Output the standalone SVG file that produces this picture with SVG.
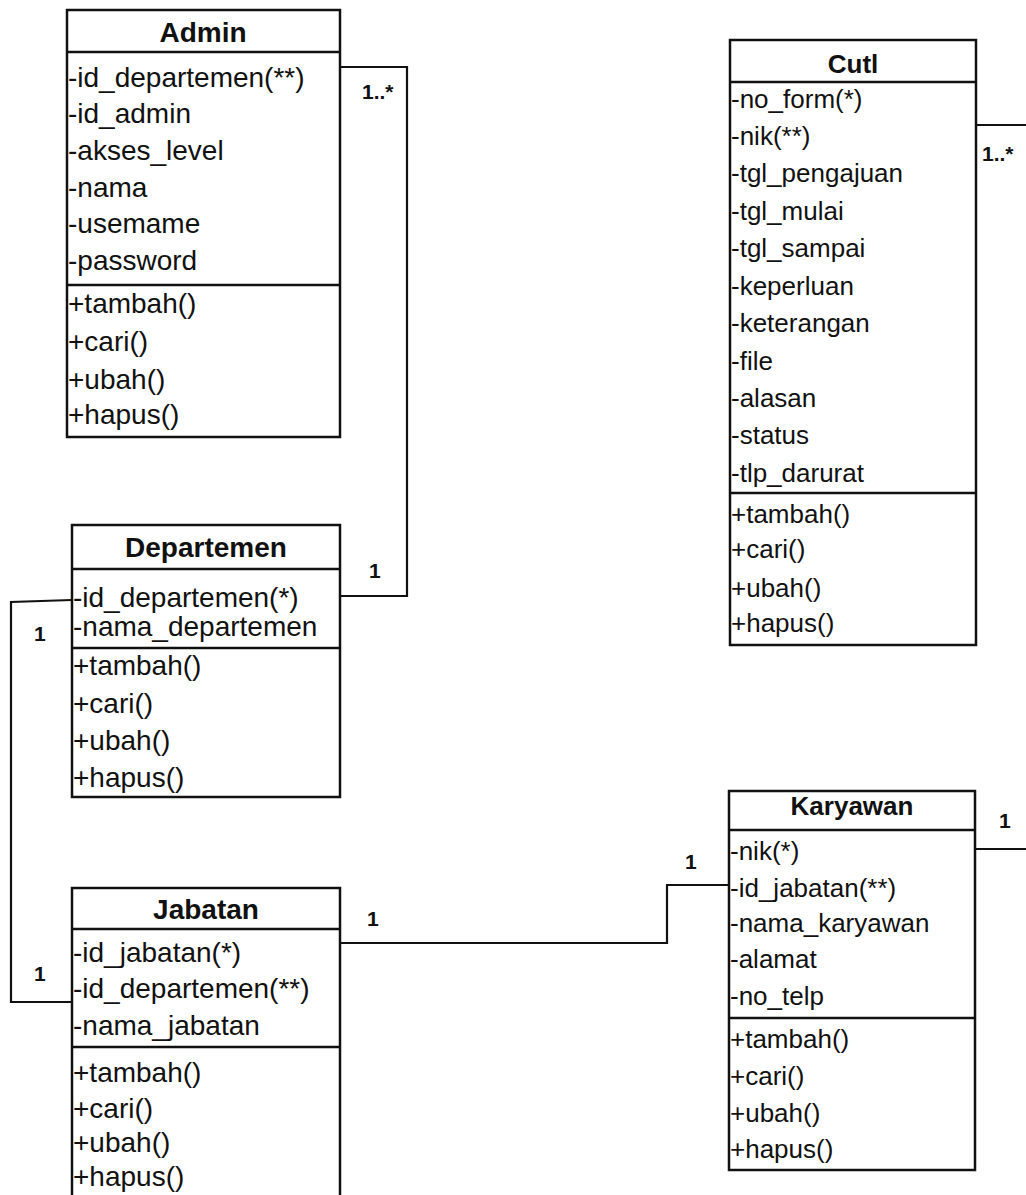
<svg xmlns="http://www.w3.org/2000/svg" width="1026" height="1195" viewBox="0 0 1026 1195">
<style>
.box{fill:#fff;stroke:#111;stroke-width:2.5}
.div{stroke:#111;stroke-width:2.5}
.conn{fill:none;stroke:#111;stroke-width:2.2}
.t{font-family:"Liberation Sans",Arial,sans-serif;font-size:28px;fill:#111}
.tr{font-family:"Liberation Sans",Arial,sans-serif;font-size:26px;fill:#111}
.h{font-family:"Liberation Sans",Arial,sans-serif;font-size:28px;font-weight:bold;fill:#111;text-anchor:middle}
.hr{font-family:"Liberation Sans",Arial,sans-serif;font-size:26px;font-weight:bold;fill:#111;text-anchor:middle}
.m{font-family:"Liberation Sans",Arial,sans-serif;font-size:21px;font-weight:bold;fill:#111}
</style>
<rect x="0" y="0" width="1026" height="1195" fill="#fff"/>
<g id="connectors">
<polyline class="conn" points="340,67 407,67 407,596 340,596"/>
<polyline class="conn" points="72,600 11,602 11,1002 72,1002"/>
<polyline class="conn" points="340,943 667,943 667,885 729,885"/>
<line class="conn" x1="976" y1="125" x2="1026" y2="125"/>
<line class="conn" x1="975" y1="849" x2="1026" y2="849"/>
<text class="m" x="362" y="99">1..*</text>
<text class="m" x="369" y="578">1</text>
<text class="m" x="34" y="641">1</text>
<text class="m" x="34" y="981">1</text>
<text class="m" x="367" y="926">1</text>
<text class="m" x="685" y="869">1</text>
<text class="m" x="982" y="161">1..*</text>
<text class="m" x="999" y="828">1</text>
</g>
<g id="admin">
<rect class="box" x="67" y="10" width="273" height="427"/>
<line class="div" x1="67" y1="52" x2="340" y2="52"/>
<line class="div" x1="67" y1="285" x2="340" y2="285"/>
<text class="h" x="203" y="42">Admin</text>
<text class="t" x="68" y="87">-id_departemen(**)</text>
<text class="t" x="68" y="123">-id_admin</text>
<text class="t" x="68" y="160">-akses_level</text>
<text class="t" x="68" y="197">-nama</text>
<text class="t" x="68" y="233">-usemame</text>
<text class="t" x="68" y="270">-password</text>
<text class="t" x="68" y="313">+tambah()</text>
<text class="t" x="68" y="351">+cari()</text>
<text class="t" x="68" y="389">+ubah()</text>
<text class="t" x="68" y="424">+hapus()</text>
</g>
<g id="departemen">
<rect class="box" x="72" y="525" width="268" height="272"/>
<line class="div" x1="72" y1="569" x2="340" y2="569"/>
<line class="div" x1="72" y1="648" x2="340" y2="648"/>
<text class="h" x="206" y="557">Departemen</text>
<text class="t" x="73" y="607">-id_departemen(*)</text>
<text class="t" x="73" y="636">-nama_departemen</text>
<text class="t" x="73" y="675">+tambah()</text>
<text class="t" x="73" y="713">+cari()</text>
<text class="t" x="73" y="750">+ubah()</text>
<text class="t" x="73" y="787">+hapus()</text>
</g>
<g id="jabatan">
<rect class="box" x="72" y="888" width="268" height="320"/>
<line class="div" x1="72" y1="929" x2="340" y2="929"/>
<line class="div" x1="72" y1="1047" x2="340" y2="1047"/>
<text class="h" x="206" y="919">Jabatan</text>
<text class="t" x="73" y="962">-id_jabatan(*)</text>
<text class="t" x="73" y="998">-id_departemen(**)</text>
<text class="t" x="73" y="1035">-nama_jabatan</text>
<text class="t" x="73" y="1082">+tambah()</text>
<text class="t" x="73" y="1118">+cari()</text>
<text class="t" x="73" y="1152">+ubah()</text>
<text class="t" x="73" y="1186">+hapus()</text>
</g>
<g id="cuti">
<rect class="box" x="730" y="40" width="246" height="605"/>
<line class="div" x1="730" y1="82" x2="976" y2="82"/>
<line class="div" x1="730" y1="493" x2="976" y2="493"/>
<text class="hr" x="853" y="73">Cutl</text>
<text class="tr" x="731" y="108">-no_form(*)</text>
<text class="tr" x="731" y="145">-nik(**)</text>
<text class="tr" x="731" y="182">-tgl_pengajuan</text>
<text class="tr" x="731" y="220">-tgl_mulai</text>
<text class="tr" x="731" y="257">-tgl_sampai</text>
<text class="tr" x="731" y="295">-keperluan</text>
<text class="tr" x="731" y="332">-keterangan</text>
<text class="tr" x="731" y="370">-file</text>
<text class="tr" x="731" y="407">-alasan</text>
<text class="tr" x="731" y="444">-status</text>
<text class="tr" x="731" y="482">-tlp_darurat</text>
<text class="tr" x="731" y="523">+tambah()</text>
<text class="tr" x="731" y="558">+cari()</text>
<text class="tr" x="731" y="597">+ubah()</text>
<text class="tr" x="731" y="632">+hapus()</text>
</g>
<g id="karyawan">
<rect class="box" x="729" y="791" width="246" height="379"/>
<line class="div" x1="729" y1="830" x2="975" y2="830"/>
<line class="div" x1="729" y1="1018" x2="975" y2="1018"/>
<text class="hr" x="852" y="815">Karyawan</text>
<text class="tr" x="730" y="860">-nik(*)</text>
<text class="tr" x="730" y="897">-id_jabatan(**)</text>
<text class="tr" x="730" y="932">-nama_karyawan</text>
<text class="tr" x="730" y="968">-alamat</text>
<text class="tr" x="730" y="1005">-no_telp</text>
<text class="tr" x="730" y="1048">+tambah()</text>
<text class="tr" x="730" y="1085">+cari()</text>
<text class="tr" x="730" y="1122">+ubah()</text>
<text class="tr" x="730" y="1158">+hapus()</text>
</g>
</svg>
